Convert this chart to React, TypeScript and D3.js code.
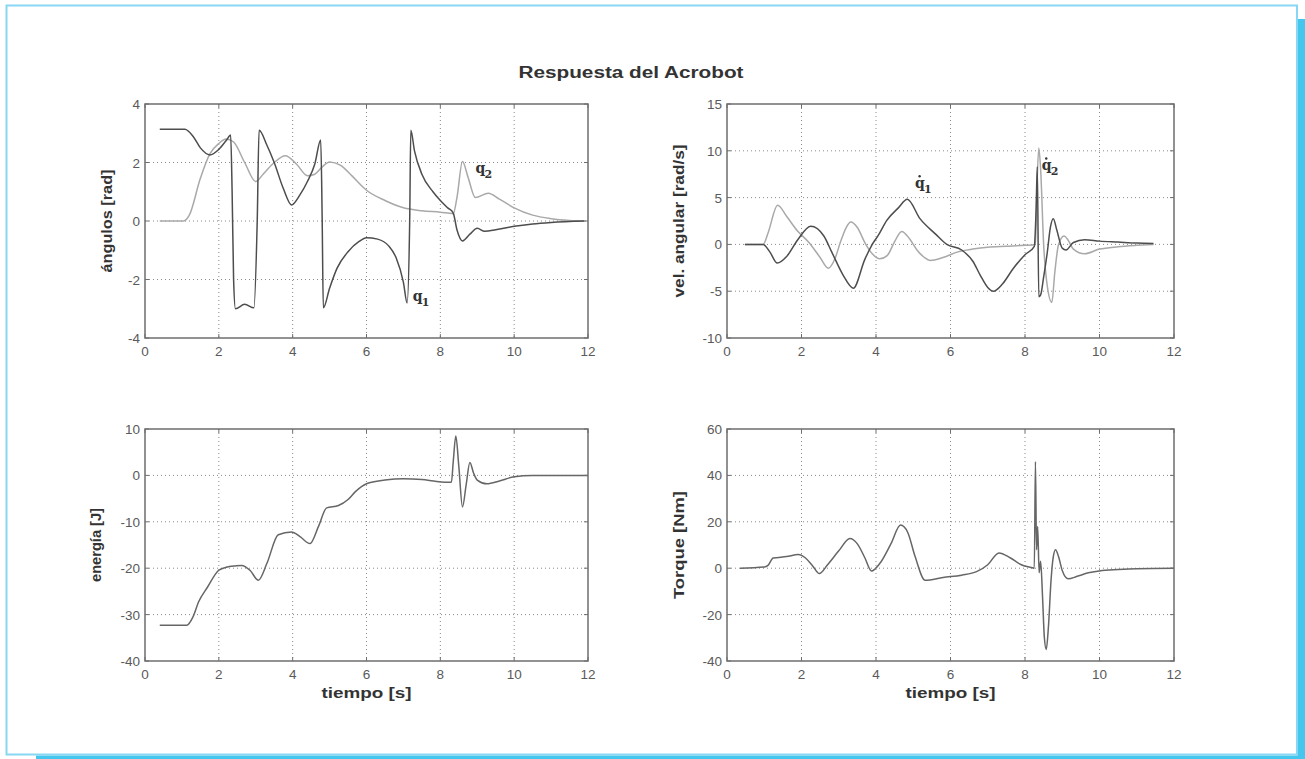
import React from 'react';
import * as d3 from 'd3';

// ---- data (time in s) ----
const xTicks = [0, 2, 4, 6, 8, 10, 12];
const angTicks = [-4, -2, 0, 2, 4];
const velTicks = [-10, -5, 0, 5, 10, 15];
const enTicks = [-40, -30, -20, -10, 0, 10];
const torTicks = [-40, -20, 0, 20, 40, 60];

// q1 angle
const q1T = [0.4, 1.08, 1.3, 1.5, 1.76, 2.0, 2.2, 2.32, 2.36, 2.4, 2.45, 2.7, 2.95, 3.04, 3.09, 3.3, 3.5, 3.75, 3.97, 4.2, 4.4, 4.6, 4.76, 4.8, 4.83, 5.0, 5.2, 5.5, 5.8, 6.0, 6.3, 6.6, 6.8, 7.0, 7.1, 7.17, 7.2, 7.3, 7.5, 7.8, 8.0, 8.2, 8.35, 8.45, 8.6, 8.8, 9.0, 9.2, 9.5, 10.0, 10.5, 11.0, 11.9];
const q1V = [3.14, 3.14, 2.9, 2.5, 2.26, 2.45, 2.75, 2.94, 1.0, -2.0, -3.0, -2.85, -2.97, 0, 3.1, 2.6, 2.0, 1.1, 0.55, 0.9, 1.35, 1.95, 2.77, 0, -2.97, -2.3, -1.62, -1.05, -0.7, -0.57, -0.62, -0.85, -1.25, -2.1, -2.8, 0, 3.1, 2.4, 1.6, 1.0, 0.7, 0.45, 0.27, -0.3, -0.68, -0.45, -0.25, -0.35, -0.3, -0.18, -0.1, -0.05, 0];
// q2 angle
const q2T = [0.4, 1.05, 1.2, 1.5, 1.76, 2.0, 2.2, 2.4, 2.7, 3.0, 3.2, 3.5, 3.8, 4.1, 4.4, 4.6, 4.8, 5.0, 5.3, 5.6, 6.0, 6.5, 7.0, 7.5, 8.0, 8.35, 8.45, 8.6, 8.75, 8.95, 9.3, 9.6, 10.0, 10.5, 11.0, 11.5, 11.9];
const q2V = [0, 0, 0.2, 1.46, 2.3, 2.65, 2.8, 2.7, 2.0, 1.35, 1.6, 2.0, 2.23, 1.95, 1.55, 1.6, 1.85, 2.02, 1.9, 1.55, 1.05, 0.7, 0.45, 0.35, 0.3, 0.25, 0.8, 2.03, 1.5, 0.8, 0.95, 0.75, 0.45, 0.2, 0.08, 0.02, 0];

// angular velocities
const dq1T = [0.48, 0.97, 1.15, 1.35, 1.6, 1.9, 2.25, 2.6, 2.81, 3.12, 3.39, 3.7, 3.9, 4.06, 4.29, 4.6, 4.84, 5.18, 5.6, 5.9, 6.3, 6.6, 6.8, 7.0, 7.15, 7.4, 7.68, 8.0, 8.25, 8.3, 8.33, 8.37, 8.42, 8.5, 8.6, 8.68, 8.76, 8.85, 9.0, 9.1, 9.3, 9.6, 10.0, 10.5, 11.0, 11.45];
const dq1V = [0, 0, -0.8, -2.0, -1.3, 0.5, 1.93, 0.9, -0.8, -3.3, -4.68, -1.6, 0, 0.96, 2.57, 3.9, 4.82, 2.75, 1.1, 0, -0.6, -1.8, -3.3, -4.6, -5.0, -4.2, -2.6, -1.1, -0.2, 4.0, 8.3, -5.6, -5.4, -3.5, -0.8, 1.8, 2.75, 1.6, -0.4, -0.6, 0.2, 0.5, 0.35, 0.25, 0.15, 0.1];
const dq2T = [0.48, 0.97, 1.1, 1.36, 1.6, 1.9, 2.2, 2.5, 2.72, 2.9, 3.05, 3.2, 3.32, 3.5, 3.7, 3.9, 4.1, 4.3, 4.5, 4.69, 4.9, 5.1, 5.3, 5.45, 5.8, 6.2, 6.6, 7.0, 7.5, 8.0, 8.28, 8.32, 8.37, 8.42, 8.5, 8.6, 8.72, 8.8, 8.9, 9.05, 9.15, 9.3, 9.6, 10.0, 10.5, 11.0, 11.45];
const dq2V = [0, 0, 1.2, 4.18, 3.0, 1.4, 0.2, -1.4, -2.54, -1.5, 0.3, 1.8, 2.39, 1.8, 0.2, -1.0, -1.54, -1.2, 0.3, 1.39, 0.6, -0.6, -1.4, -1.71, -1.4, -0.8, -0.5, -0.3, -0.2, -0.1, 0, 6, 10.3, 8.0, 0, -4.5, -6.2, -3, 0, 0.9, 0.5, -0.5, -1.0, -0.5, -0.25, -0.1, 0];

// energy
const enT = [0.4, 1.13, 1.3, 1.45, 1.7, 1.99, 2.2, 2.45, 2.62, 2.85, 3.07, 3.3, 3.61, 3.97, 4.2, 4.47, 4.7, 4.92, 5.24, 5.5, 5.7, 6.0, 6.5, 7.0, 7.5, 7.9, 8.3, 8.35, 8.42, 8.5, 8.6, 8.7, 8.8, 8.9, 9.0, 9.26, 9.6, 10.0, 10.5, 12.0];
const enV = [-32.3, -32.3, -30.5, -27.3, -24, -20.5, -19.8, -19.5, -19.4, -20.5, -22.6, -19.0, -12.8, -12.2, -13.2, -14.7, -11, -7.0, -6.5, -5.2, -3.5, -1.8, -1.0, -0.7, -0.9, -1.3, -1.5, 3, 8.5, 2, -6.8, -2, 2.8, 0.5, -1.0, -1.8, -1.2, -0.3, 0, 0];

// torque
const torT = [0.35, 1.0, 1.1, 1.24, 1.6, 1.91, 2.1, 2.3, 2.48, 2.7, 3.0, 3.3, 3.5, 3.7, 3.88, 4.1, 4.4, 4.66, 4.85, 5.05, 5.32, 5.8, 6.3, 6.7, 7.0, 7.3, 7.6, 7.9, 8.2, 8.25, 8.28, 8.31, 8.34, 8.38, 8.42, 8.47, 8.52, 8.57, 8.63, 8.7, 8.76, 8.82, 8.9, 9.0, 9.16, 9.4, 9.7, 10.0, 10.5, 11.0, 12.0];
const torV = [0, 0.5, 1.2, 4.4, 5.0, 5.9, 4.5, 1.0, -2.3, 1.5, 7.5, 12.8, 10.5, 4.5, -1.2, 2, 10.5, 18.6, 15.5, 5, -5.2, -4.0, -3.0, -1.5, 1.5, 6.6, 4.5, 1.5, 0.2, 0, 46, 8, 18, -2, 3, -12, -30, -35, -25, -5, 5, 8, 5, -1, -4.6, -3.5, -2, -1.2, -0.6, -0.2, 0];

const sans = "'Liberation Sans', Arial, Helvetica, sans-serif";
const serif = "'DejaVu Serif', 'Liberation Serif', serif";

type Series = { t: number[]; v: number[]; color: string };

function Panel(props: {
  left: number; top: number; width: number; height: number;
  yDomain: [number, number]; yTicks: number[]; series: Series[];
  yLabel: string; yLabelX: number; yLabelLen: number; xLabel?: boolean;
  notes?: (x: d3.ScaleLinear<number, number>, y: d3.ScaleLinear<number, number>) => React.ReactNode;
}) {
  const { left, top, width, height, yDomain, yTicks, series } = props;
  const x = d3.scaleLinear().domain([0, 12]).range([left, left + width]);
  const y = d3.scaleLinear().domain(yDomain).range([top + height, top]);
  const frame = '#6e6e6e';
  const grid = '#8a8a8a';
  return (
    <g>
      {/* grid */}
      {xTicks.slice(1, -1).map(t => (
        <line key={'gx' + t} x1={x(t)} x2={x(t)} y1={top} y2={top + height}
          stroke={grid} strokeWidth={1} strokeDasharray="1,3" />
      ))}
      {yTicks.slice(1, -1).map(t => (
        <line key={'gy' + t} x1={left} x2={left + width} y1={y(t)} y2={y(t)}
          stroke={grid} strokeWidth={1} strokeDasharray="1,3" />
      ))}
      {/* series */}
      {series.map((s, k) => {
        const line = d3.line<number>()
          .x(i => x(s.t[i]))
          .y(i => y(s.v[i]))
          .curve(d3.curveMonotoneX);
        return <path key={k} d={line(d3.range(s.t.length)) || ''} fill="none"
          stroke={s.color} strokeWidth={1.5} strokeLinejoin="round" />;
      })}
      {/* frame and inner ticks */}
      <rect x={left} y={top} width={width} height={height} fill="none" stroke={frame} strokeWidth={1.5} />
      {xTicks.map(t => (
        <g key={'tx' + t}>
          <line x1={x(t)} x2={x(t)} y1={top + height} y2={top + height - 4} stroke={frame} />
          <line x1={x(t)} x2={x(t)} y1={top} y2={top + 4} stroke={frame} />
          <text x={x(t)} y={top + height + 18} textAnchor="middle" fontFamily={sans}
            fontSize={13.5} fill="#5a5a5a">{t}</text>
        </g>
      ))}
      {yTicks.map(t => (
        <g key={'ty' + t}>
          <line x1={left} x2={left + 4} y1={y(t)} y2={y(t)} stroke={frame} />
          <line x1={left + width} x2={left + width - 4} y1={y(t)} y2={y(t)} stroke={frame} />
          <text x={left - 5} y={y(t) + 5} textAnchor="end" fontFamily={sans}
            fontSize={13.5} fill="#5a5a5a">{t}</text>
        </g>
      ))}
      <text transform={`translate(${props.yLabelX},${top + height / 2}) rotate(-90)`}
        textAnchor="middle" fontFamily={sans} fontSize={14} fontWeight="bold" fill="#333"
        textLength={props.yLabelLen} lengthAdjust="spacingAndGlyphs">{props.yLabel}</text>
      {props.xLabel && (
        <text x={left + width / 2} y={top + height + 37} textAnchor="middle" fontFamily={sans}
          fontSize={14} fontWeight="bold" fill="#333" textLength={90}
          lengthAdjust="spacingAndGlyphs">tiempo [s]</text>
      )}
      {props.notes && props.notes(x, y)}
    </g>
  );
}

function QLabel({ x, y, sub, dot }: { x: number; y: number; sub: string; dot?: boolean }) {
  return (
    <g fontFamily={serif} fontWeight="bold" fill="#333">
      <text x={x} y={y} fontSize={14}>q</text>
      {dot && <circle cx={x + 4.5} cy={y - 12} r={1.2} fill="#333" />}
      <text x={x + 9} y={y + 5} fontSize={11}>{sub}</text>
    </g>
  );
}

export default function App() {
  const dark = '#4d4d4d';
  const light = '#a9a9a9';
  const mid = '#666';
  return (
    <svg width={1305} height={759} style={{ position: 'absolute', left: 0, top: 0, background: '#fff' }}>
      {/* page frame with shadow */}
      <rect x={1297.5} y={19} width={7.5} height={740} fill="#45c6ef" />
      <rect x={36} y={755.5} width={1269} height={3.5} fill="#45c6ef" />
      <rect x={6.5} y={5.5} width={1290.5} height={749} fill="none" stroke="#86d6f4" strokeWidth={2} />

      <text x={631} y={78} textAnchor="middle" fontFamily={sans} fontSize={16} fontWeight="bold"
        fill="#333" textLength={225} lengthAdjust="spacingAndGlyphs">Respuesta del Acrobot</text>

      <Panel left={145} top={104} width={443} height={234} yDomain={[-4, 4]} yTicks={angTicks}
        series={[{ t: q2T, v: q2V, color: light }, { t: q1T, v: q1V, color: dark }]}
        yLabel="ángulos [rad]" yLabelX={112} yLabelLen={103}
        notes={(x, y) => (
          <g>
            <QLabel x={x(7.25)} y={y(-2.75)} sub="1" />
            <QLabel x={x(8.95)} y={y(1.65)} sub="2" />
          </g>
        )} />

      <Panel left={727} top={104} width={447} height={234} yDomain={[-10, 15]} yTicks={velTicks}
        series={[{ t: dq2T, v: dq2V, color: light }, { t: dq1T, v: dq1V, color: dark }]}
        yLabel="vel. angular [rad/s]" yLabelX={684} yLabelLen={153}
        notes={(x, y) => (
          <g>
            <QLabel x={x(5.05)} y={y(6.0)} sub="1" dot />
            <QLabel x={x(8.45)} y={y(7.9)} sub="2" dot />
          </g>
        )} />

      <Panel left={145} top={429} width={443} height={232} yDomain={[-40, 10]} yTicks={enTicks}
        series={[{ t: enT, v: enV, color: mid }]}
        yLabel="energía [J]" yLabelX={101} yLabelLen={74} xLabel />

      <Panel left={727} top={429} width={447} height={232} yDomain={[-40, 60]} yTicks={torTicks}
        series={[{ t: torT, v: torV, color: mid }]}
        yLabel="Torque [Nm]" yLabelX={684} yLabelLen={108} xLabel />
    </svg>
  );
}
